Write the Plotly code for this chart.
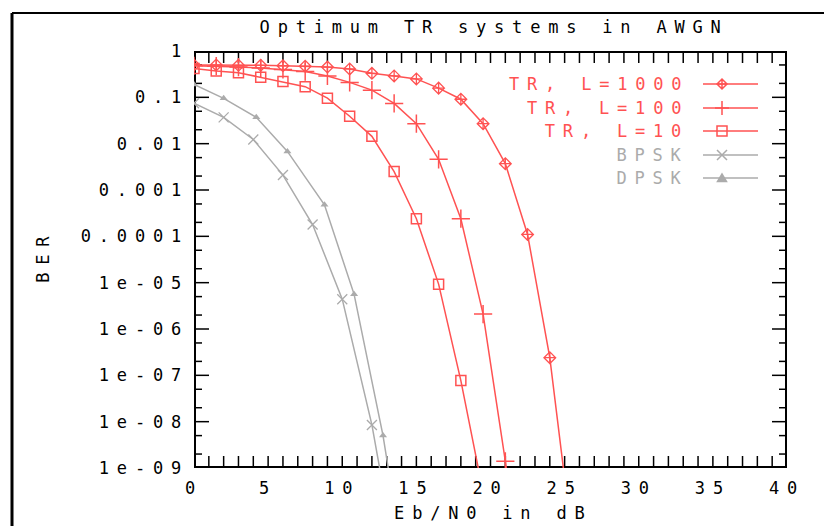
import math
import plotly.graph_objects as go

# ---------------- data ----------------
snr_L1000 = [0, 1.5, 3, 4.5, 6, 7.5, 9, 10.5, 12, 13.5, 15, 16.5, 18, 19.5, 21, 22.5, 24, 25.5]
ber_L1000 = [0.5, 0.5, 0.49, 0.49, 0.48, 0.47, 0.45, 0.41, 0.33, 0.29, 0.25, 0.158, 0.091,
             0.027, 0.0037, 1.1e-4, 2.4e-7, 3e-11]

snr_L100 = [0, 1.5, 3, 4.5, 6, 7.5, 9, 10.5, 12, 13.5, 15, 16.5, 18, 19.5, 21, 22.5]
ber_L100 = [0.48, 0.47, 0.45, 0.43, 0.40, 0.36, 0.29, 0.21, 0.143, 0.074, 0.027, 0.0046,
            2.4e-4, 2.1e-6, 1.4e-9, 3e-13]

snr_L10 = [0, 1.5, 3, 4.5, 6, 7.5, 9, 10.5, 12, 13.5, 15, 16.5, 18, 19.5]
ber_L10 = [0.42, 0.37, 0.34, 0.27, 0.22, 0.17, 0.096, 0.039, 0.0144, 0.0025, 2.4e-4,
           9.3e-6, 7.7e-8, 3e-10]

snr_BPSK = [0, 2, 4, 6, 8, 10, 12, 13]
ber_BPSK = [0.0745, 0.037, 0.0123, 0.0021, 1.8e-4, 4.4e-6, 8.5e-9, 1.4e-10]

snr_DPSK = [0, 2, 4.2, 6.3, 8.8, 10.8, 12.75, 13.5]
ber_DPSK = [0.19, 0.095, 0.037, 0.0068, 4.8e-4, 5.6e-6, 5e-9, 1.6e-10]

x_range = [0, 40]
x_major_step = 5
x_minor_step = 1
y_tickvals = [1, 0.1, 0.01, 0.001, 0.0001, 1e-5, 1e-6, 1e-7, 1e-8, 1e-9]
y_ticktext = ["1", "0.1", "0.01", "0.001", "0.0001", "1e-05", "1e-06", "1e-07", "1e-08", "1e-09"]
y_minor_mantissas = [5, 2]

title_text = "Optimum TR systems in AWGN"
x_title = "Eb/N0 in dB"
y_title = "BER"

series_names = ["TR, L=1000", "TR, L=100", "TR, L=10", "BPSK", "DPSK"]

# ---------------- styling ----------------
RED = "#ff5252"
GRAY = "#ababab"
FONT = "DejaVu Sans Mono"
FS = 17
SPACING = 7.8  # px letter spacing (wide bitmap-like font of the original)

W, H = 824, 526
ML, MR, MT, MB = 194, 37, 51, 58
PW, PH = W - ML - MR, H - MT - MB
y_log_range = [math.log10(min(y_tickvals)), math.log10(max(y_tickvals))]
y_lo, y_hi = min(y_tickvals), max(y_tickvals)


def px_x(p):  # pixel -> paper
    return (p - ML) / PW


def px_y(p):
    return (H - MB - p) / PH


series = [
    (snr_L1000, ber_L1000, RED, dict(symbol="diamond-cross-open", size=9, line=dict(width=1.3, color=RED))),
    (snr_L100, ber_L100, RED, dict(symbol="cross-thin-open", size=13, line=dict(width=1.5, color=RED))),
    (snr_L10, ber_L10, RED, dict(symbol="square-open", size=10, line=dict(width=1.5, color=RED))),
    (snr_BPSK, ber_BPSK, GRAY, dict(symbol="x-thin-open", size=10, line=dict(width=1.3, color=GRAY))),
    (snr_DPSK, ber_DPSK, GRAY, dict(symbol="triangle-up", size=7, line=dict(width=0, color=GRAY))),
]

fig = go.Figure()

# ---- frame and inward ticks, drawn as line traces on the axes ----
dec_per_px = (y_log_range[1] - y_log_range[0]) / PH
x_per_px = (x_range[1] - x_range[0]) / PW

fx, fy = [], []
nx = int((x_range[1] - x_range[0]) / x_minor_step)
for i in range(1, nx):
    v = x_range[0] + i * x_minor_step
    fx += [v, v, None, v, v, None]
    fy += [y_lo, 10 ** (y_log_range[0] + 12 * dec_per_px), None,
           y_hi, 10 ** (y_log_range[1] - 12 * dec_per_px), None]
for dec in y_tickvals:
    vals = [(dec, 15)] if dec not in (y_hi, y_lo) else []
    if dec != y_hi:
        vals += [(m * dec, 8) for m in y_minor_mantissas]
    for v, ln in vals:
        fx += [x_range[0], x_range[0] + ln * x_per_px, None, x_range[1], x_range[1] - ln * x_per_px, None]
        fy += [v, v, None, v, v, None]
fig.add_trace(go.Scatter(x=fx, y=fy, mode="lines", line=dict(color="black", width=1.5),
                         showlegend=False, hoverinfo="skip", connectgaps=False))
fig.add_trace(go.Scatter(x=[x_range[0], x_range[1], x_range[1], x_range[0], x_range[0]],
                         y=[y_lo, y_lo, y_hi, y_hi, y_lo], mode="lines",
                         line=dict(color="black", width=4), showlegend=False, hoverinfo="skip"))

for (xs, ys, col, mk), name in zip(series, series_names):
    fig.add_trace(go.Scatter(x=xs, y=ys, mode="lines+markers", name=name,
                             line=dict(color=col, width=1.5), marker=dict(color=col, **mk),
                             showlegend=False, cliponaxis=True))

# key (legend) glyphs, as pixel-sized shapes anchored in paper coordinates
key_glyphs = [
    "M-5,0L0,5L5,0L0,-5ZM-5,0L5,0M0,-5L0,5",
    "M-7,0L7,0M0,-7L0,7",
    "M-5,-5L5,-5L5,5L-5,5Z",
    "M-5,-5L5,5M-5,5L5,-5",
    "M-4.5,-3.5L4.5,-3.5L0,4Z",
]
key_fill = [False, False, False, False, True]
key_rows_px = [84, 108, 131, 155, 178]
text_centers_px = [595.5, 604.5, 613.5, 649.5, 649.5]
for (xs, ys, col, mk), name, ry, tc, gl, fl in zip(series, series_names, key_rows_px,
                                                   text_centers_px, key_glyphs, key_fill):
    fig.add_shape(type="line", xref="paper", yref="paper", x0=px_x(703), x1=px_x(758),
                  y0=px_y(ry), y1=px_y(ry), line=dict(color=col, width=1.5))
    fig.add_shape(type="path", xref="paper", yref="paper", xsizemode="pixel", ysizemode="pixel",
                  xanchor=px_x(722), yanchor=px_y(ry), path=gl,
                  line=dict(color=col, width=1.5), fillcolor=col if fl else "rgba(0,0,0,0)")
    fig.add_annotation(x=px_x(tc + SPACING / 2), y=px_y(ry), xref="paper", yref="paper", text=name,
                       showarrow=False, xanchor="center", yanchor="middle",
                       font=dict(family=FONT, size=FS, color=col))

fig.add_annotation(x=px_x(490 + SPACING / 2), y=px_y(27), xref="paper", yref="paper", text=title_text,
                   showarrow=False, xanchor="center", yanchor="middle",
                   font=dict(family=FONT, size=FS, color="black"))
fig.add_annotation(x=px_x(490 + SPACING / 2), y=px_y(513), xref="paper", yref="paper", text=x_title,
                   showarrow=False, xanchor="center", yanchor="middle",
                   font=dict(family=FONT, size=FS, color="black"))
fig.add_annotation(x=px_x(43), y=px_y(260 - SPACING / 2), xref="paper", yref="paper", text=y_title,
                   showarrow=False, textangle=-90, xanchor="center", yanchor="middle",
                   font=dict(family=FONT, size=FS, color="black"))

# outer frame of the original figure
fig.add_shape(type="line", xref="paper", yref="paper", x0=px_x(12), x1=px_x(12), y0=px_y(540), y1=px_y(13),
              line=dict(color="black", width=3))
fig.add_shape(type="line", xref="paper", yref="paper", x0=px_x(12), x1=px_x(840), y0=px_y(13), y1=px_y(13),
              line=dict(color="black", width=2))

fig.update_layout(
    width=W, height=H,
    margin=dict(l=ML, r=MR, t=MT, b=MB),
    paper_bgcolor="white", plot_bgcolor="white",
    font=dict(family=FONT, size=FS, color="black"),
    showlegend=False,
    xaxis=dict(range=x_range, tickmode="linear", tick0=x_range[0], dtick=x_major_step, ticks="",
               showline=False, showgrid=False, zeroline=False, ticklabelstandoff=8),
    yaxis=dict(type="log", range=y_log_range, tickmode="array", tickvals=y_tickvals,
               ticktext=y_ticktext, ticks="", showline=False, showgrid=False, zeroline=False,
               ticklabelstandoff=4),
)

post = """
var st=document.createElement('style');
st.textContent='svg text{letter-spacing:%spx;}';
document.head.appendChild(st);
""" % SPACING

fig.write_html("out.html", post_script=post)
